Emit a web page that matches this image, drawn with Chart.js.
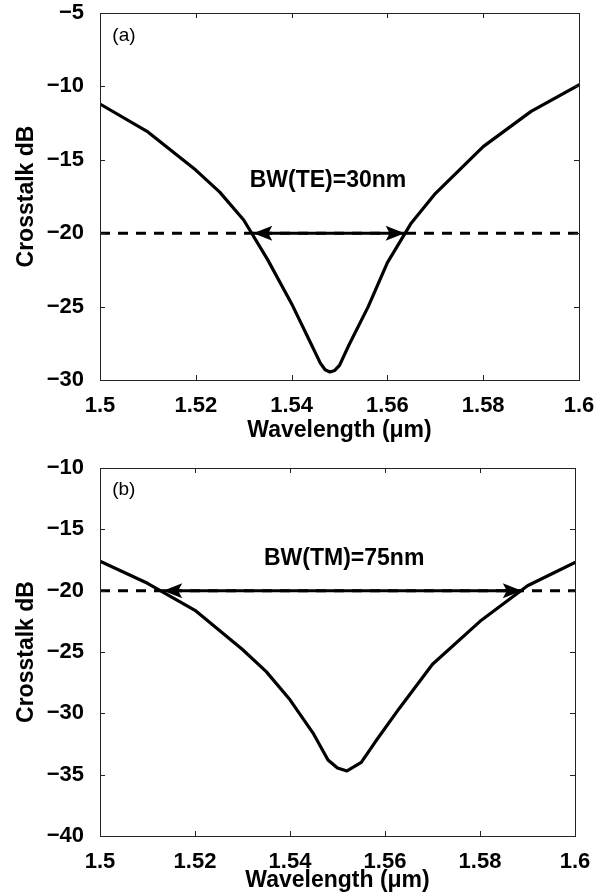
<!DOCTYPE html>
<html>
<head>
<meta charset="utf-8">
<script src="https://cdn.jsdelivr.net/npm/chart.js@4/dist/chart.umd.min.js"></script>
<style>
    body { margin: 0; background: #fff; }
    .panel { position: relative; width: 595px; height: 447px; }
</style>
</head>
<body>
<div class="panel"><canvas id="chartTE" width="595" height="447"></canvas></div>
<div class="panel"><canvas id="chartTM" width="595" height="447"></canvas></div>
<script>
"use strict";

// panel (a): TE crosstalk
const wavelengthTE = [1.500, 1.510, 1.520, 1.525, 1.530, 1.535, 1.540, 1.544, 1.546, 1.547, 1.548, 1.549, 1.550, 1.552, 1.556, 1.560, 1.565, 1.570, 1.580, 1.590, 1.600];
const crosstalkTE = [-11.2, -13.1, -15.7, -17.2, -19.1, -21.8, -24.8, -27.5, -28.85, -29.3, -29.45, -29.35, -29.0, -27.6, -25.0, -22.0, -19.3, -17.3, -14.1, -11.7, -9.9];
const bandTE = [1.532, 1.5636];

// panel (b): TM crosstalk
const wavelengthTM = [1.500, 1.510, 1.520, 1.530, 1.535, 1.540, 1.545, 1.548, 1.550, 1.552, 1.555, 1.558, 1.563, 1.570, 1.580, 1.590, 1.600];
const crosstalkTM = [-17.6, -19.4, -21.6, -24.8, -26.6, -28.9, -31.7, -33.8, -34.45, -34.7, -34.0, -32.3, -29.6, -26.0, -22.5, -19.6, -17.7];
const bandTM = [1.5133, 1.5888];

const xRange = [1.5, 1.6];
const levelDb = -20;

Chart.defaults.font.family = "'Liberation Sans', Arial, Helvetica, sans-serif";
Chart.defaults.color = "#000";

const framePlugin = {
    id: "frame",
    afterDatasetsDraw(chart, args, opts) {
        const ctx = chart.ctx;
        const a = chart.chartArea;
        const xs = chart.scales.x;
        const ys = chart.scales.y;

        ctx.save();
        ctx.strokeStyle = "#222";
        ctx.lineWidth = 1;
        ctx.strokeRect(a.left + 0.5, a.top + 0.5, a.right - a.left, a.bottom - a.top);

        // inside ticks on all four sides
        ctx.beginPath();
        xs.ticks.forEach((t) => {
            let px = Math.round(xs.getPixelForValue(t.value)) + 0.5;
            ctx.moveTo(px, a.bottom);
            ctx.lineTo(px, a.bottom - 5);
            ctx.moveTo(px, a.top);
            ctx.lineTo(px, a.top + 5);
        });
        ys.ticks.forEach((t) => {
            let py = Math.round(ys.getPixelForValue(t.value)) + 0.5;
            ctx.moveTo(a.left, py);
            ctx.lineTo(a.left + 5, py);
            ctx.moveTo(a.right, py);
            ctx.lineTo(a.right - 5, py);
        });
        ctx.stroke();

        // arrow heads on the bandwidth arrow
        let meta = chart.getDatasetMeta(1);
        let p0 = meta.data[0];
        let p1 = meta.data[meta.data.length - 1];
        ctx.fillStyle = "#000";
        [[p0, 1], [p1, -1]].forEach(([p, dir]) => {
            ctx.beginPath();
            ctx.moveTo(p.x, p.y);
            ctx.lineTo(p.x + dir * 19, p.y - 7.5);
            ctx.lineTo(p.x + dir * 15, p.y);
            ctx.lineTo(p.x + dir * 19, p.y + 7.5);
            ctx.closePath();
            ctx.fill();
        });

        // panel tag and bandwidth text
        ctx.textAlign = "center";
        ctx.textBaseline = "middle";
        ctx.font = "19px 'Liberation Sans', Arial, sans-serif";
        ctx.fillText(opts.tag, xs.getPixelForValue(opts.tagAt[0]), ys.getPixelForValue(opts.tagAt[1]));
        ctx.font = "bold 23px 'Liberation Sans', Arial, sans-serif";
        ctx.fillText(opts.note, xs.getPixelForValue(opts.noteAt[0]), ys.getPixelForValue(opts.noteAt[1]));
        ctx.restore();
    }
};

function minusSign(v) {
    return (v < 0 ? "\u2212" : "") + Math.abs(v);
}

function makeChart(canvasId, xs, ys, band, yMin, yMax, layout, labels) {
    const curve = xs.map((x, i) => ({x: x, y: ys[i]}));
    const arrow = band.map((x) => ({x: x, y: levelDb}));
    const dashed = xRange.map((x) => ({x: x, y: levelDb}));

    return new Chart(document.getElementById(canvasId), {
        type: "line",
        data: {
            datasets: [{
                data: curve,
                borderColor: "#000",
                borderWidth: 3.2,
                pointRadius: 0,
                tension: 0,
                borderJoinStyle: "round",
                borderCapStyle: "round"
            }, {
                data: arrow,
                borderColor: "#000",
                borderWidth: 3,
                pointRadius: 0
            }, {
                data: dashed,
                borderColor: "#000",
                borderWidth: 3,
                borderDash: [10, 8],
                pointRadius: 0
            }]
        },
        options: {
            responsive: false,
            animation: false,
            layout: {padding: {top: layout.top, right: layout.right, left: 0, bottom: 0}},
            plugins: {
                legend: {display: false},
                tooltip: {enabled: false},
                frame: labels
            },
            scales: {
                x: {
                    type: "linear",
                    min: xRange[0],
                    max: xRange[1],
                    grid: {display: false},
                    border: {display: false},
                    ticks: {
                        stepSize: 0.02,
                        autoSkip: false,
                        padding: 5,
                        maxRotation: 0,
                        font: {size: 22, weight: "bold"},
                        callback: (v) => Number(v.toFixed(2)).toString()
                    },
                    title: {
                        display: true,
                        text: "Wavelength (\u03bcm)",
                        font: {size: 23, weight: "bold", lineHeight: 1.2},
                        padding: {top: 0, bottom: layout.titleBottom}
                    },
                    afterFit: (s) => {
                        s.height = layout.xHeight;
                        s.paddingLeft = 0;
                        s.paddingRight = 0;
                    }
                },
                y: {
                    min: yMin,
                    max: yMax,
                    grid: {display: false},
                    border: {display: false},
                    ticks: {
                        stepSize: 5,
                        padding: 8,
                        font: {size: 22, weight: "bold"},
                        callback: minusSign
                    },
                    title: {
                        display: true,
                        text: "Crosstalk dB",
                        font: {size: 23, weight: "bold", lineHeight: 1.2},
                        padding: {top: 13, bottom: 0}
                    },
                    afterFit: (s) => {
                        s.width = 100;
                        s.paddingTop = 0;
                        s.paddingBottom = 0;
                    }
                }
            }
        },
        plugins: [framePlugin]
    });
}

makeChart("chartTE", wavelengthTE, crosstalkTE, bandTE, -30, -5,
    {top: 13, right: 16, xHeight: 67, titleBottom: 3},
    {tag: "(a)", tagAt: [1.505, -6.57], note: "BW(TE)=30nm", noteAt: [1.5476, -16.44]});

makeChart("chartTM", wavelengthTM, crosstalkTM, bandTM, -40, -10,
    {top: 21, right: 20, xHeight: 58, titleBottom: 0},
    {tag: "(b)", tagAt: [1.505, -11.8], note: "BW(TM)=75nm", noteAt: [1.5514, -17.36]});
</script>
</body>
</html>
